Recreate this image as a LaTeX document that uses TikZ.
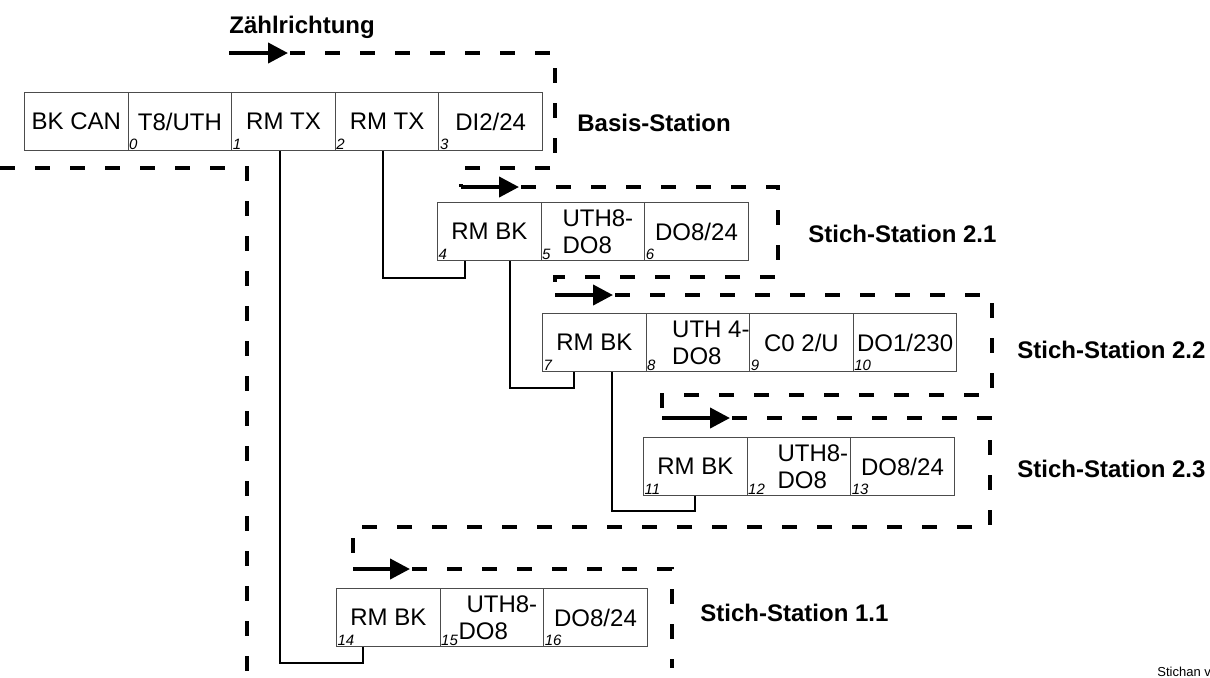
\documentclass[tikz,border=0pt]{standalone}
\usepackage{fontspec}
\setmainfont{Liberation Sans}
\usetikzlibrary{arrows.meta}
\tikzset{
  cell/.style={draw=black!70, line width=0.5pt, minimum width=51.8pt, minimum height=29pt,
    inner sep=0pt, anchor=north west, align=left, font=\fontsize{12}{13.5}\selectfont},
  idx/.style={anchor=south west, inner sep=0.6pt, font=\fontsize{7.5}{8}\selectfont\itshape},
  wire/.style={line width=1pt},
  trail/.style={line width=2pt, dash pattern=on 7.5pt off 10pt},
  dir/.style={line width=2pt, -{Triangle[length=10pt,width=10pt]}},
  title/.style={anchor=base west, inner sep=0pt, font=\fontsize{12}{14}\selectfont\bfseries}
}
\newcommand{\pad}[1]{\hspace*{#1}}
\begin{document}
\begin{tikzpicture}[x=0.5pt, y=-0.5pt]
    \useasboundingbox (0,0) rectangle (1210,677);

    % Basis-Station
    \node[cell] (bk) at (24,92) {BK CAN};
    \foreach \t [count=\i from 0] in {T8/UTH, RM TX, RM TX, DI2/24}
        \node[cell] (c\i) at ({127.6+\i*103.6},92) {\t};

    % Stich-Stationen
    \foreach \t [count=\i from 4] in {RM BK, {\pad{5pt}UTH8-\\\pad{5pt}DO8}, DO8/24}
        \node[cell] (c\i) at ({437+(\i-4)*103.6},202) {\t};
    \foreach \t [count=\i from 7] in {RM BK, {\pad{13pt}UTH 4-\\\pad{13pt}DO8}, C0 2/U, DO1/230}
        \node[cell] (c\i) at ({542+(\i-7)*103.6},313) {\t};
    \foreach \t [count=\i from 11] in {RM BK, {\pad{14pt}UTH8-\\\pad{14pt}DO8}, DO8/24}
        \node[cell] (c\i) at ({643+(\i-11)*103.6},437) {\t};
    \foreach \t [count=\i from 14] in {RM BK, {\pad{10pt}UTH8-\\\pad{6pt}DO8}, DO8/24}
        \node[cell] (c\i) at ({336+(\i-14)*103.6},588) {\t};

    \foreach \i in {0,...,16} \node[idx] at (c\i.south west) {\i};

    % Stich-Leitungen
    \coordinate (in4) at ([xshift=-12pt]c4.south); \coordinate (in7) at ([xshift=-10pt]c7.south);
    \coordinate (in11) at (c11.south); \coordinate (in14) at ([xshift=-12.5pt]c14.south);
    \draw[wire] ([xshift=-2pt]c1.south) |- ([yshift=-8pt]in14) -- (in14);
    \draw[wire] ([xshift=-2pt]c2.south) |- ([yshift=-8.5pt]in4) -- (in4);
    \draw[wire] ([xshift=10.5pt]c4.south) |- ([yshift=-8pt]in7) -- (in7);
    \draw[wire] ([xshift=9pt]c7.south) |- ([yshift=-7.5pt]in11) -- (in11);

    % Zaehlrichtung
    \node[title] (zr) at (229,33) {Zählrichtung};
    \draw[dir] (229,53) -- (288,53);
    \draw[trail] (290,53) -| (555,168) -| (461,187);
    \draw[dir] (461,187) -- (519,187);
    \draw[trail] (521,187) -| (778,277) -| (555,295);
    \draw[dir] (555,295) -- (613,295);
    \draw[trail] (615,295) -| (992,395) -| (662,418);
    \draw[dir] (662,418) -- (730,418);
    \draw[trail] (732,418) -| (990,527) -| (353,569);
    \draw[dir] (353,569) -- (410,569);
    \draw[trail] (412,569) -| (672,668);
    \draw[trail] (0,168) -| (247,677);

    % Stationsnamen
    \node[title] (bs) at (577,131) {Basis-Station};
    \node[title] (s21) at (808,242) {Stich-Station 2.1};
    \node[title] (s22) at (1017,358) {Stich-Station 2.2};
    \node[title] (s23) at (1017,477) {Stich-Station 2.3};
    \node[title] (s11) at (700,621) {Stich-Station 1.1};
    \node[anchor=base west, inner sep=0pt, font=\fontsize{6.5}{7}\selectfont] (fn) at (1157,676) {Stichan v};
\end{tikzpicture}
\end{document}
